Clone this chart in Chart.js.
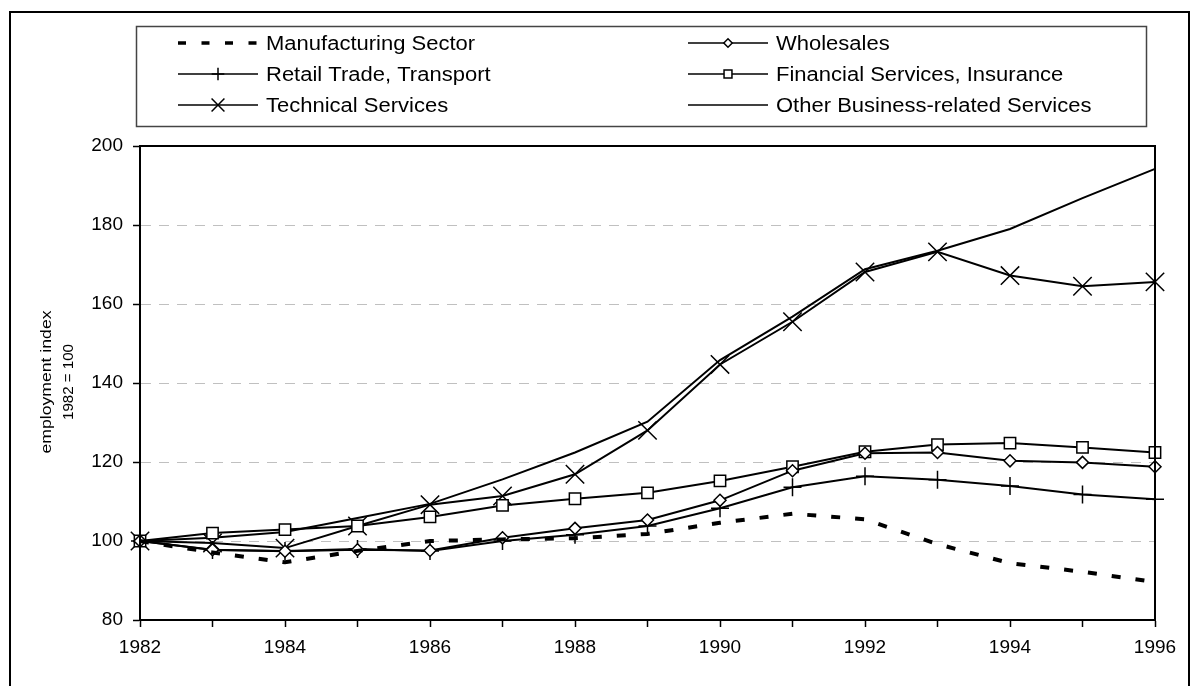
<!DOCTYPE html>
<html>
<head>
<meta charset="utf-8">
<script src="https://cdn.jsdelivr.net/npm/chart.js@4.4.1/dist/chart.umd.min.js"></script>
<style>
  html, body { margin: 0; padding: 0; background: #fff; }
  #wrap { width: 1192px; height: 686px; }
</style>
</head>
<body>
<div id="wrap"><canvas id="chart" width="1192" height="686"></canvas></div>
<script>
// Years on the x axis
const years = ["1982", "1983", "1984", "1985", "1986", "1987", "1988", "1989",
  "1990", "1991", "1992", "1993", "1994", "1995", "1996"];

// Employment index per sector, 1982 = 100
const manufacturing = [100, 97.1, 94.6, 97.5, 100, 100.4, 100.7, 101.8, 104.6, 106.9, 105.5, 99.2, 94.4, 92.2, 89.6];
const wholesales = [100, 97.8, 97.4, 97.8, 97.6, 100.8, 103.2, 105.3, 110.3, 117.8, 122.2, 122.4, 120.3, 119.9, 118.8];
const retail = [100, 97.7, 97.5, 98, 97.5, 100, 101.6, 103.8, 108.3, 113.6, 116.4, 115.5, 113.9, 111.8, 110.6];
const financial = [100, 102, 102.9, 103.8, 106.1, 109, 110.7, 112.2, 115.2, 118.8, 122.6, 124.4, 124.8, 123.7, 122.4];
const technical = [100, 99.5, 98.2, 103.8, 109.2, 111.4, 116.9, 128, 144.7, 155.5, 168.1, 173.2, 167.2, 164.5, 165.6];
const otherBusiness = [100, 100.8, 102.3, 105.8, 109.4, 115.6, 122.4, 130.2, 145.8, 156.8, 168.8, 173.5, 179, 186.8, 194.2];

const seriesNames = ["Manufacturing Sector", "Wholesales", "Retail Trade, Transport",
  "Financial Services, Insurance", "Technical Services", "Other Business-related Services"];

const yTitle = ["employment index", "1982 = 100"];

const FONT = '"Liberation Sans", Arial, sans-serif';

// common look of a black series line
const line = (label, data, extra) => Object.assign({
  label: label,
  data: data,
  borderColor: "#000",
  backgroundColor: "#fff",
  pointBackgroundColor: "#fff",
  pointBorderColor: "#000",
  borderWidth: 2,
  pointBorderWidth: 1.5,
  pointRadius: 0,
  tension: 0,
  clip: false,
}, extra);

// frames, legend box and the y title
const decorations = {
  id: "decorations",
  beforeDraw(chart) {
    const ctx = chart.ctx;
    ctx.save();
    ctx.fillStyle = "#fff";
    ctx.fillRect(0, 0, chart.width, chart.height);
    ctx.restore();
  },
  afterDatasetsDraw(chart) {
    const ctx = chart.ctx;
    const a = chart.chartArea;
    ctx.save();
    ctx.strokeStyle = "#000";
    ctx.lineWidth = 2;
    ctx.strokeRect(a.left, a.top, a.right - a.left, a.bottom - a.top);
    ctx.restore();
  },
  afterDraw(chart) {
    const ctx = chart.ctx;
    ctx.save();
    // outer frame
    ctx.strokeStyle = "#000";
    ctx.lineWidth = 2;
    ctx.strokeRect(10, 12, 1179, 700);
    // legend frame
    ctx.strokeStyle = "#444";
    ctx.lineWidth = 1.5;
    ctx.strokeRect(136.5, 26.5, 1010, 100);

    // legend entries, two columns
    const colX = [178, 688];
    const rowY = [43, 74, 105];
    chart.data.datasets.forEach((ds, i) => {
      const x = colX[i % 2];
      const y = rowY[Math.floor(i / 2)];
      ctx.save();
      ctx.strokeStyle = "#000";
      if (ds.borderDash) {
        ctx.lineWidth = 3.5;
        ctx.setLineDash([8, 15.5]);
      } else {
        ctx.lineWidth = 1.5;
      }
      ctx.beginPath();
      ctx.moveTo(x, y);
      ctx.lineTo(x + 80, y);
      ctx.stroke();
      ctx.setLineDash([]);
      if (ds.pointRadius > 0) {
        ctx.fillStyle = "#fff";
        ctx.strokeStyle = "#000";
        ctx.lineWidth = 1.5;
        Chart.helpers.drawPoint(ctx, {
          pointStyle: ds.pointStyle,
          radius: ds.pointRadius * 0.7,
          rotation: 0,
          borderWidth: 1.5,
        }, x + 40, y);
      }
      ctx.fillStyle = "#000";
      ctx.font = "20px " + FONT;
      ctx.textBaseline = "middle";
      ctx.translate(x + 88, y + 1);
      ctx.scale(1.1, 1);
      ctx.fillText(ds.label, 0, 0);
      ctx.restore();
    });

    // y axis title, two rotated lines stretched along the text
    const titleX = [47, 69];
    const titleLen = [143, 76];
    yTitle.forEach((t, i) => {
      ctx.save();
      ctx.fillStyle = "#000";
      ctx.font = "14px " + FONT;
      ctx.textAlign = "center";
      ctx.textBaseline = "middle";
      const w = ctx.measureText(t).width;
      ctx.translate(titleX[i], 382);
      ctx.rotate(-Math.PI / 2);
      ctx.scale(titleLen[i] / w, 1);
      ctx.fillText(t, 0, 0);
      ctx.restore();
    });
    ctx.restore();
  },
};

new Chart(document.getElementById("chart"), {
  type: "line",
  plugins: [decorations],
  data: {
    labels: years,
    datasets: [
      line(seriesNames[0], manufacturing, { borderWidth: 4, borderDash: [9, 15] }),
      line(seriesNames[1], wholesales, { pointStyle: "rectRot", pointRadius: 6 }),
      line(seriesNames[2], retail, { pointStyle: "cross", pointRadius: 9 }),
      line(seriesNames[3], financial, { pointStyle: "rect", pointRadius: 8 }),
      line(seriesNames[4], technical, { pointStyle: "crossRot", pointRadius: 13 }),
      line(seriesNames[5], otherBusiness, {}),
    ],
  },
  options: {
    responsive: false,
    animation: false,
    events: [],
    layout: { padding: { left: 10, top: 146, right: 37, bottom: 21 } },
    plugins: {
      legend: { display: false },
      tooltip: { enabled: false },
      title: { display: false },
    },
    scales: {
      x: {
        type: "category",
        offset: false,
        afterFit: (s) => { s.height = 45; },
        grid: {
          drawOnChartArea: false,
          drawTicks: true,
          tickLength: 7,
          tickColor: "#000",
          tickWidth: 1.5,
        },
        border: { color: "#000", width: 2 },
        ticks: {
          autoSkip: false,
          maxRotation: 0,
          padding: 9,
          color: "#000",
          font: { family: FONT, size: 19 },
          callback: function (v, i) { return i % 2 === 0 ? this.getLabelForValue(v) : ""; },
        },
      },
      y: {
        min: 80,
        max: 200,
        afterFit: (s) => { s.width = 130; },
        grid: {
          color: "#c0c0c0",
          lineWidth: 1,
          tickLength: 7,
          tickColor: "#000",
          tickWidth: 1.5,
        },
        border: { color: "#000", width: 2, dash: [10, 8] },
        ticks: {
          stepSize: 20,
          padding: 10,
          color: "#000",
          font: { family: FONT, size: 19 },
        },
      },
    },
  },
});
</script>
</body>
</html>
